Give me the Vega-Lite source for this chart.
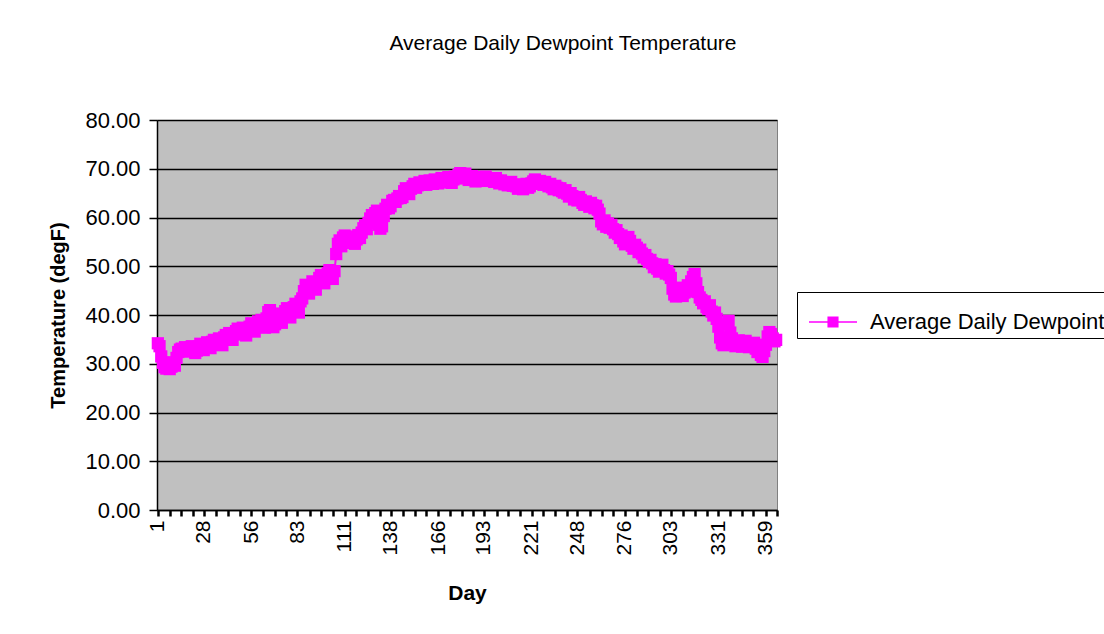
{
  "$schema": "https://vega.github.io/schema/vega-lite/v6.json",
  "width": 620,
  "height": 390,
  "autosize": {"type": "none"},
  "padding": {"left": 157, "top": 120, "right": 327, "bottom": 124},
  "background": "white",
  "title": {
    "text": "Average Daily Dewpoint Temperature",
    "anchor": "middle",
    "dx": 96,
    "offset": 55,
    "font": "Liberation Sans",
    "fontSize": 21,
    "fontWeight": "normal",
    "color": "black"
  },
  "config": {
    "view": {"fill": "#C0C0C0", "stroke": "#808080", "strokeWidth": 1},
    "axis": {
      "labelFont": "Liberation Sans",
      "titleFont": "Liberation Sans",
      "labelColor": "black",
      "titleColor": "black",
      "domainColor": "black",
      "tickColor": "black",
      "gridColor": "black"
    }
  },
  "data": {
    "values": [
      {"day":1,"temp":34.2,"series":"Average Daily Dewpoint"},
      {"day":2,"temp":33.6,"series":"Average Daily Dewpoint"},
      {"day":3,"temp":31.5,"series":"Average Daily Dewpoint"},
      {"day":4,"temp":30.2,"series":"Average Daily Dewpoint"},
      {"day":5,"temp":29.3,"series":"Average Daily Dewpoint"},
      {"day":6,"temp":29.0,"series":"Average Daily Dewpoint"},
      {"day":7,"temp":30.1,"series":"Average Daily Dewpoint"},
      {"day":8,"temp":28.9,"series":"Average Daily Dewpoint"},
      {"day":9,"temp":29.4,"series":"Average Daily Dewpoint"},
      {"day":10,"temp":30.3,"series":"Average Daily Dewpoint"},
      {"day":11,"temp":29.6,"series":"Average Daily Dewpoint"},
      {"day":12,"temp":31.2,"series":"Average Daily Dewpoint"},
      {"day":13,"temp":32.4,"series":"Average Daily Dewpoint"},
      {"day":14,"temp":32.9,"series":"Average Daily Dewpoint"},
      {"day":15,"temp":33.1,"series":"Average Daily Dewpoint"},
      {"day":16,"temp":32.6,"series":"Average Daily Dewpoint"},
      {"day":17,"temp":33.4,"series":"Average Daily Dewpoint"},
      {"day":18,"temp":33.0,"series":"Average Daily Dewpoint"},
      {"day":19,"temp":32.5,"series":"Average Daily Dewpoint"},
      {"day":20,"temp":33.3,"series":"Average Daily Dewpoint"},
      {"day":21,"temp":33.6,"series":"Average Daily Dewpoint"},
      {"day":22,"temp":33.1,"series":"Average Daily Dewpoint"},
      {"day":23,"temp":32.2,"series":"Average Daily Dewpoint"},
      {"day":24,"temp":32.7,"series":"Average Daily Dewpoint"},
      {"day":25,"temp":33.5,"series":"Average Daily Dewpoint"},
      {"day":26,"temp":34.1,"series":"Average Daily Dewpoint"},
      {"day":27,"temp":33.4,"series":"Average Daily Dewpoint"},
      {"day":28,"temp":32.8,"series":"Average Daily Dewpoint"},
      {"day":29,"temp":34.0,"series":"Average Daily Dewpoint"},
      {"day":30,"temp":34.4,"series":"Average Daily Dewpoint"},
      {"day":31,"temp":33.7,"series":"Average Daily Dewpoint"},
      {"day":32,"temp":33.2,"series":"Average Daily Dewpoint"},
      {"day":33,"temp":34.5,"series":"Average Daily Dewpoint"},
      {"day":34,"temp":34.9,"series":"Average Daily Dewpoint"},
      {"day":35,"temp":33.9,"series":"Average Daily Dewpoint"},
      {"day":36,"temp":34.3,"series":"Average Daily Dewpoint"},
      {"day":37,"temp":35.2,"series":"Average Daily Dewpoint"},
      {"day":38,"temp":34.6,"series":"Average Daily Dewpoint"},
      {"day":39,"temp":33.8,"series":"Average Daily Dewpoint"},
      {"day":40,"temp":35.4,"series":"Average Daily Dewpoint"},
      {"day":41,"temp":35.9,"series":"Average Daily Dewpoint"},
      {"day":42,"temp":35.1,"series":"Average Daily Dewpoint"},
      {"day":43,"temp":36.3,"series":"Average Daily Dewpoint"},
      {"day":44,"temp":35.6,"series":"Average Daily Dewpoint"},
      {"day":45,"temp":34.9,"series":"Average Daily Dewpoint"},
      {"day":46,"temp":36.0,"series":"Average Daily Dewpoint"},
      {"day":47,"temp":36.7,"series":"Average Daily Dewpoint"},
      {"day":48,"temp":37.2,"series":"Average Daily Dewpoint"},
      {"day":49,"temp":36.1,"series":"Average Daily Dewpoint"},
      {"day":50,"temp":36.9,"series":"Average Daily Dewpoint"},
      {"day":51,"temp":37.4,"series":"Average Daily Dewpoint"},
      {"day":52,"temp":36.5,"series":"Average Daily Dewpoint"},
      {"day":53,"temp":35.8,"series":"Average Daily Dewpoint"},
      {"day":54,"temp":37.0,"series":"Average Daily Dewpoint"},
      {"day":55,"temp":37.6,"series":"Average Daily Dewpoint"},
      {"day":56,"temp":38.3,"series":"Average Daily Dewpoint"},
      {"day":57,"temp":37.1,"series":"Average Daily Dewpoint"},
      {"day":58,"temp":36.6,"series":"Average Daily Dewpoint"},
      {"day":59,"temp":38.0,"series":"Average Daily Dewpoint"},
      {"day":60,"temp":38.7,"series":"Average Daily Dewpoint"},
      {"day":61,"temp":38.2,"series":"Average Daily Dewpoint"},
      {"day":62,"temp":39.0,"series":"Average Daily Dewpoint"},
      {"day":63,"temp":38.5,"series":"Average Daily Dewpoint"},
      {"day":64,"temp":37.4,"series":"Average Daily Dewpoint"},
      {"day":65,"temp":39.3,"series":"Average Daily Dewpoint"},
      {"day":66,"temp":40.6,"series":"Average Daily Dewpoint"},
      {"day":67,"temp":41.0,"series":"Average Daily Dewpoint"},
      {"day":68,"temp":39.2,"series":"Average Daily Dewpoint"},
      {"day":69,"temp":37.5,"series":"Average Daily Dewpoint"},
      {"day":70,"temp":38.1,"series":"Average Daily Dewpoint"},
      {"day":71,"temp":39.8,"series":"Average Daily Dewpoint"},
      {"day":72,"temp":40.3,"series":"Average Daily Dewpoint"},
      {"day":73,"temp":38.9,"series":"Average Daily Dewpoint"},
      {"day":74,"temp":38.4,"series":"Average Daily Dewpoint"},
      {"day":75,"temp":39.6,"series":"Average Daily Dewpoint"},
      {"day":76,"temp":40.8,"series":"Average Daily Dewpoint"},
      {"day":77,"temp":41.4,"series":"Average Daily Dewpoint"},
      {"day":78,"temp":40.1,"series":"Average Daily Dewpoint"},
      {"day":79,"temp":39.5,"series":"Average Daily Dewpoint"},
      {"day":80,"temp":40.7,"series":"Average Daily Dewpoint"},
      {"day":81,"temp":41.6,"series":"Average Daily Dewpoint"},
      {"day":82,"temp":42.3,"series":"Average Daily Dewpoint"},
      {"day":83,"temp":41.2,"series":"Average Daily Dewpoint"},
      {"day":84,"temp":40.5,"series":"Average Daily Dewpoint"},
      {"day":85,"temp":42.8,"series":"Average Daily Dewpoint"},
      {"day":86,"temp":43.4,"series":"Average Daily Dewpoint"},
      {"day":87,"temp":44.9,"series":"Average Daily Dewpoint"},
      {"day":88,"temp":46.2,"series":"Average Daily Dewpoint"},
      {"day":89,"temp":45.1,"series":"Average Daily Dewpoint"},
      {"day":90,"temp":44.4,"series":"Average Daily Dewpoint"},
      {"day":91,"temp":45.8,"series":"Average Daily Dewpoint"},
      {"day":92,"temp":46.9,"series":"Average Daily Dewpoint"},
      {"day":93,"temp":46.3,"series":"Average Daily Dewpoint"},
      {"day":94,"temp":45.2,"series":"Average Daily Dewpoint"},
      {"day":95,"temp":46.7,"series":"Average Daily Dewpoint"},
      {"day":96,"temp":47.6,"series":"Average Daily Dewpoint"},
      {"day":97,"temp":48.2,"series":"Average Daily Dewpoint"},
      {"day":98,"temp":47.0,"series":"Average Daily Dewpoint"},
      {"day":99,"temp":46.5,"series":"Average Daily Dewpoint"},
      {"day":100,"temp":47.8,"series":"Average Daily Dewpoint"},
      {"day":101,"temp":48.6,"series":"Average Daily Dewpoint"},
      {"day":102,"temp":49.2,"series":"Average Daily Dewpoint"},
      {"day":103,"temp":48.1,"series":"Average Daily Dewpoint"},
      {"day":104,"temp":47.4,"series":"Average Daily Dewpoint"},
      {"day":105,"temp":49.0,"series":"Average Daily Dewpoint"},
      {"day":106,"temp":52.5,"series":"Average Daily Dewpoint"},
      {"day":107,"temp":54.6,"series":"Average Daily Dewpoint"},
      {"day":108,"temp":55.3,"series":"Average Daily Dewpoint"},
      {"day":109,"temp":54.1,"series":"Average Daily Dewpoint"},
      {"day":110,"temp":55.9,"series":"Average Daily Dewpoint"},
      {"day":111,"temp":56.3,"series":"Average Daily Dewpoint"},
      {"day":112,"temp":55.6,"series":"Average Daily Dewpoint"},
      {"day":113,"temp":54.8,"series":"Average Daily Dewpoint"},
      {"day":114,"temp":55.7,"series":"Average Daily Dewpoint"},
      {"day":115,"temp":56.1,"series":"Average Daily Dewpoint"},
      {"day":116,"temp":55.2,"series":"Average Daily Dewpoint"},
      {"day":117,"temp":54.6,"series":"Average Daily Dewpoint"},
      {"day":118,"temp":55.5,"series":"Average Daily Dewpoint"},
      {"day":119,"temp":56.4,"series":"Average Daily Dewpoint"},
      {"day":120,"temp":55.8,"series":"Average Daily Dewpoint"},
      {"day":121,"temp":56.9,"series":"Average Daily Dewpoint"},
      {"day":122,"temp":57.8,"series":"Average Daily Dewpoint"},
      {"day":123,"temp":58.4,"series":"Average Daily Dewpoint"},
      {"day":124,"temp":57.6,"series":"Average Daily Dewpoint"},
      {"day":125,"temp":58.9,"series":"Average Daily Dewpoint"},
      {"day":126,"temp":59.8,"series":"Average Daily Dewpoint"},
      {"day":127,"temp":60.5,"series":"Average Daily Dewpoint"},
      {"day":128,"temp":59.4,"series":"Average Daily Dewpoint"},
      {"day":129,"temp":60.9,"series":"Average Daily Dewpoint"},
      {"day":130,"temp":61.4,"series":"Average Daily Dewpoint"},
      {"day":131,"temp":58.5,"series":"Average Daily Dewpoint"},
      {"day":132,"temp":57.7,"series":"Average Daily Dewpoint"},
      {"day":133,"temp":58.2,"series":"Average Daily Dewpoint"},
      {"day":134,"temp":60.3,"series":"Average Daily Dewpoint"},
      {"day":135,"temp":61.8,"series":"Average Daily Dewpoint"},
      {"day":136,"temp":62.6,"series":"Average Daily Dewpoint"},
      {"day":137,"temp":61.9,"series":"Average Daily Dewpoint"},
      {"day":138,"temp":62.3,"series":"Average Daily Dewpoint"},
      {"day":139,"temp":63.4,"series":"Average Daily Dewpoint"},
      {"day":140,"temp":63.6,"series":"Average Daily Dewpoint"},
      {"day":141,"temp":63.2,"series":"Average Daily Dewpoint"},
      {"day":142,"temp":63.9,"series":"Average Daily Dewpoint"},
      {"day":143,"temp":64.4,"series":"Average Daily Dewpoint"},
      {"day":144,"temp":64.0,"series":"Average Daily Dewpoint"},
      {"day":145,"temp":64.2,"series":"Average Daily Dewpoint"},
      {"day":146,"temp":65.4,"series":"Average Daily Dewpoint"},
      {"day":147,"temp":66.0,"series":"Average Daily Dewpoint"},
      {"day":148,"temp":65.3,"series":"Average Daily Dewpoint"},
      {"day":149,"temp":64.8,"series":"Average Daily Dewpoint"},
      {"day":150,"temp":65.9,"series":"Average Daily Dewpoint"},
      {"day":151,"temp":66.4,"series":"Average Daily Dewpoint"},
      {"day":152,"temp":66.9,"series":"Average Daily Dewpoint"},
      {"day":153,"temp":66.1,"series":"Average Daily Dewpoint"},
      {"day":154,"temp":66.6,"series":"Average Daily Dewpoint"},
      {"day":155,"temp":67.2,"series":"Average Daily Dewpoint"},
      {"day":156,"temp":66.8,"series":"Average Daily Dewpoint"},
      {"day":157,"temp":67.0,"series":"Average Daily Dewpoint"},
      {"day":158,"temp":67.5,"series":"Average Daily Dewpoint"},
      {"day":159,"temp":66.7,"series":"Average Daily Dewpoint"},
      {"day":160,"temp":67.1,"series":"Average Daily Dewpoint"},
      {"day":161,"temp":67.6,"series":"Average Daily Dewpoint"},
      {"day":162,"temp":67.3,"series":"Average Daily Dewpoint"},
      {"day":163,"temp":66.9,"series":"Average Daily Dewpoint"},
      {"day":164,"temp":67.8,"series":"Average Daily Dewpoint"},
      {"day":165,"temp":67.4,"series":"Average Daily Dewpoint"},
      {"day":166,"temp":67.0,"series":"Average Daily Dewpoint"},
      {"day":167,"temp":67.7,"series":"Average Daily Dewpoint"},
      {"day":168,"temp":68.1,"series":"Average Daily Dewpoint"},
      {"day":169,"temp":67.5,"series":"Average Daily Dewpoint"},
      {"day":170,"temp":67.2,"series":"Average Daily Dewpoint"},
      {"day":171,"temp":67.9,"series":"Average Daily Dewpoint"},
      {"day":172,"temp":68.3,"series":"Average Daily Dewpoint"},
      {"day":173,"temp":67.6,"series":"Average Daily Dewpoint"},
      {"day":174,"temp":67.1,"series":"Average Daily Dewpoint"},
      {"day":175,"temp":67.8,"series":"Average Daily Dewpoint"},
      {"day":176,"temp":68.4,"series":"Average Daily Dewpoint"},
      {"day":177,"temp":68.0,"series":"Average Daily Dewpoint"},
      {"day":178,"temp":68.7,"series":"Average Daily Dewpoint"},
      {"day":179,"temp":69.1,"series":"Average Daily Dewpoint"},
      {"day":180,"temp":68.8,"series":"Average Daily Dewpoint"},
      {"day":181,"temp":68.6,"series":"Average Daily Dewpoint"},
      {"day":182,"temp":69.0,"series":"Average Daily Dewpoint"},
      {"day":183,"temp":68.2,"series":"Average Daily Dewpoint"},
      {"day":184,"temp":67.7,"series":"Average Daily Dewpoint"},
      {"day":185,"temp":68.0,"series":"Average Daily Dewpoint"},
      {"day":186,"temp":68.5,"series":"Average Daily Dewpoint"},
      {"day":187,"temp":67.9,"series":"Average Daily Dewpoint"},
      {"day":188,"temp":67.4,"series":"Average Daily Dewpoint"},
      {"day":189,"temp":68.1,"series":"Average Daily Dewpoint"},
      {"day":190,"temp":68.3,"series":"Average Daily Dewpoint"},
      {"day":191,"temp":67.8,"series":"Average Daily Dewpoint"},
      {"day":192,"temp":67.5,"series":"Average Daily Dewpoint"},
      {"day":193,"temp":68.2,"series":"Average Daily Dewpoint"},
      {"day":194,"temp":68.4,"series":"Average Daily Dewpoint"},
      {"day":195,"temp":67.9,"series":"Average Daily Dewpoint"},
      {"day":196,"temp":67.6,"series":"Average Daily Dewpoint"},
      {"day":197,"temp":68.0,"series":"Average Daily Dewpoint"},
      {"day":198,"temp":67.7,"series":"Average Daily Dewpoint"},
      {"day":199,"temp":67.3,"series":"Average Daily Dewpoint"},
      {"day":200,"temp":68.1,"series":"Average Daily Dewpoint"},
      {"day":201,"temp":67.5,"series":"Average Daily Dewpoint"},
      {"day":202,"temp":67.0,"series":"Average Daily Dewpoint"},
      {"day":203,"temp":67.6,"series":"Average Daily Dewpoint"},
      {"day":204,"temp":67.2,"series":"Average Daily Dewpoint"},
      {"day":205,"temp":66.8,"series":"Average Daily Dewpoint"},
      {"day":206,"temp":67.1,"series":"Average Daily Dewpoint"},
      {"day":207,"temp":66.6,"series":"Average Daily Dewpoint"},
      {"day":208,"temp":66.9,"series":"Average Daily Dewpoint"},
      {"day":209,"temp":67.3,"series":"Average Daily Dewpoint"},
      {"day":210,"temp":66.5,"series":"Average Daily Dewpoint"},
      {"day":211,"temp":66.8,"series":"Average Daily Dewpoint"},
      {"day":212,"temp":66.4,"series":"Average Daily Dewpoint"},
      {"day":213,"temp":65.9,"series":"Average Daily Dewpoint"},
      {"day":214,"temp":66.7,"series":"Average Daily Dewpoint"},
      {"day":215,"temp":66.2,"series":"Average Daily Dewpoint"},
      {"day":216,"temp":65.8,"series":"Average Daily Dewpoint"},
      {"day":217,"temp":66.5,"series":"Average Daily Dewpoint"},
      {"day":218,"temp":66.9,"series":"Average Daily Dewpoint"},
      {"day":219,"temp":66.1,"series":"Average Daily Dewpoint"},
      {"day":220,"temp":66.4,"series":"Average Daily Dewpoint"},
      {"day":221,"temp":67.0,"series":"Average Daily Dewpoint"},
      {"day":222,"temp":67.4,"series":"Average Daily Dewpoint"},
      {"day":223,"temp":67.8,"series":"Average Daily Dewpoint"},
      {"day":224,"temp":67.2,"series":"Average Daily Dewpoint"},
      {"day":225,"temp":66.9,"series":"Average Daily Dewpoint"},
      {"day":226,"temp":67.5,"series":"Average Daily Dewpoint"},
      {"day":227,"temp":67.1,"series":"Average Daily Dewpoint"},
      {"day":228,"temp":66.7,"series":"Average Daily Dewpoint"},
      {"day":229,"temp":67.3,"series":"Average Daily Dewpoint"},
      {"day":230,"temp":66.8,"series":"Average Daily Dewpoint"},
      {"day":231,"temp":66.4,"series":"Average Daily Dewpoint"},
      {"day":232,"temp":66.9,"series":"Average Daily Dewpoint"},
      {"day":233,"temp":66.2,"series":"Average Daily Dewpoint"},
      {"day":234,"temp":65.8,"series":"Average Daily Dewpoint"},
      {"day":235,"temp":66.5,"series":"Average Daily Dewpoint"},
      {"day":236,"temp":66.1,"series":"Average Daily Dewpoint"},
      {"day":237,"temp":65.6,"series":"Average Daily Dewpoint"},
      {"day":238,"temp":66.0,"series":"Average Daily Dewpoint"},
      {"day":239,"temp":65.4,"series":"Average Daily Dewpoint"},
      {"day":240,"temp":65.1,"series":"Average Daily Dewpoint"},
      {"day":241,"temp":65.6,"series":"Average Daily Dewpoint"},
      {"day":242,"temp":64.9,"series":"Average Daily Dewpoint"},
      {"day":243,"temp":64.3,"series":"Average Daily Dewpoint"},
      {"day":244,"temp":65.0,"series":"Average Daily Dewpoint"},
      {"day":245,"temp":64.4,"series":"Average Daily Dewpoint"},
      {"day":246,"temp":63.7,"series":"Average Daily Dewpoint"},
      {"day":247,"temp":64.1,"series":"Average Daily Dewpoint"},
      {"day":248,"temp":63.5,"series":"Average Daily Dewpoint"},
      {"day":249,"temp":64.2,"series":"Average Daily Dewpoint"},
      {"day":250,"temp":63.6,"series":"Average Daily Dewpoint"},
      {"day":251,"temp":63.0,"series":"Average Daily Dewpoint"},
      {"day":252,"temp":62.6,"series":"Average Daily Dewpoint"},
      {"day":253,"temp":63.3,"series":"Average Daily Dewpoint"},
      {"day":254,"temp":62.8,"series":"Average Daily Dewpoint"},
      {"day":255,"temp":62.2,"series":"Average Daily Dewpoint"},
      {"day":256,"temp":63.0,"series":"Average Daily Dewpoint"},
      {"day":257,"temp":62.5,"series":"Average Daily Dewpoint"},
      {"day":258,"temp":61.9,"series":"Average Daily Dewpoint"},
      {"day":259,"temp":62.4,"series":"Average Daily Dewpoint"},
      {"day":260,"temp":61.6,"series":"Average Daily Dewpoint"},
      {"day":261,"temp":60.8,"series":"Average Daily Dewpoint"},
      {"day":262,"temp":59.2,"series":"Average Daily Dewpoint"},
      {"day":263,"temp":58.6,"series":"Average Daily Dewpoint"},
      {"day":264,"temp":59.4,"series":"Average Daily Dewpoint"},
      {"day":265,"temp":58.1,"series":"Average Daily Dewpoint"},
      {"day":266,"temp":58.8,"series":"Average Daily Dewpoint"},
      {"day":267,"temp":57.9,"series":"Average Daily Dewpoint"},
      {"day":268,"temp":58.5,"series":"Average Daily Dewpoint"},
      {"day":269,"temp":57.6,"series":"Average Daily Dewpoint"},
      {"day":270,"temp":56.9,"series":"Average Daily Dewpoint"},
      {"day":271,"temp":57.4,"series":"Average Daily Dewpoint"},
      {"day":272,"temp":56.6,"series":"Average Daily Dewpoint"},
      {"day":273,"temp":55.8,"series":"Average Daily Dewpoint"},
      {"day":274,"temp":56.3,"series":"Average Daily Dewpoint"},
      {"day":275,"temp":55.1,"series":"Average Daily Dewpoint"},
      {"day":276,"temp":54.5,"series":"Average Daily Dewpoint"},
      {"day":277,"temp":55.4,"series":"Average Daily Dewpoint"},
      {"day":278,"temp":56.0,"series":"Average Daily Dewpoint"},
      {"day":279,"temp":55.2,"series":"Average Daily Dewpoint"},
      {"day":280,"temp":54.2,"series":"Average Daily Dewpoint"},
      {"day":281,"temp":53.6,"series":"Average Daily Dewpoint"},
      {"day":282,"temp":54.4,"series":"Average Daily Dewpoint"},
      {"day":283,"temp":53.8,"series":"Average Daily Dewpoint"},
      {"day":284,"temp":52.9,"series":"Average Daily Dewpoint"},
      {"day":285,"temp":53.4,"series":"Average Daily Dewpoint"},
      {"day":286,"temp":52.6,"series":"Average Daily Dewpoint"},
      {"day":287,"temp":51.8,"series":"Average Daily Dewpoint"},
      {"day":288,"temp":52.3,"series":"Average Daily Dewpoint"},
      {"day":289,"temp":51.5,"series":"Average Daily Dewpoint"},
      {"day":290,"temp":50.9,"series":"Average Daily Dewpoint"},
      {"day":291,"temp":51.3,"series":"Average Daily Dewpoint"},
      {"day":292,"temp":50.6,"series":"Average Daily Dewpoint"},
      {"day":293,"temp":49.8,"series":"Average Daily Dewpoint"},
      {"day":294,"temp":50.4,"series":"Average Daily Dewpoint"},
      {"day":295,"temp":49.5,"series":"Average Daily Dewpoint"},
      {"day":296,"temp":48.9,"series":"Average Daily Dewpoint"},
      {"day":297,"temp":49.6,"series":"Average Daily Dewpoint"},
      {"day":298,"temp":50.3,"series":"Average Daily Dewpoint"},
      {"day":299,"temp":49.2,"series":"Average Daily Dewpoint"},
      {"day":300,"temp":48.5,"series":"Average Daily Dewpoint"},
      {"day":301,"temp":49.0,"series":"Average Daily Dewpoint"},
      {"day":302,"temp":48.3,"series":"Average Daily Dewpoint"},
      {"day":303,"temp":47.6,"series":"Average Daily Dewpoint"},
      {"day":304,"temp":45.4,"series":"Average Daily Dewpoint"},
      {"day":305,"temp":44.2,"series":"Average Daily Dewpoint"},
      {"day":306,"temp":43.8,"series":"Average Daily Dewpoint"},
      {"day":307,"temp":44.9,"series":"Average Daily Dewpoint"},
      {"day":308,"temp":45.6,"series":"Average Daily Dewpoint"},
      {"day":309,"temp":44.3,"series":"Average Daily Dewpoint"},
      {"day":310,"temp":43.9,"series":"Average Daily Dewpoint"},
      {"day":311,"temp":44.6,"series":"Average Daily Dewpoint"},
      {"day":312,"temp":45.3,"series":"Average Daily Dewpoint"},
      {"day":313,"temp":46.1,"series":"Average Daily Dewpoint"},
      {"day":314,"temp":44.8,"series":"Average Daily Dewpoint"},
      {"day":315,"temp":46.9,"series":"Average Daily Dewpoint"},
      {"day":316,"temp":47.8,"series":"Average Daily Dewpoint"},
      {"day":317,"temp":48.4,"series":"Average Daily Dewpoint"},
      {"day":318,"temp":46.5,"series":"Average Daily Dewpoint"},
      {"day":319,"temp":44.7,"series":"Average Daily Dewpoint"},
      {"day":320,"temp":43.6,"series":"Average Daily Dewpoint"},
      {"day":321,"temp":43.1,"series":"Average Daily Dewpoint"},
      {"day":322,"temp":42.4,"series":"Average Daily Dewpoint"},
      {"day":323,"temp":42.8,"series":"Average Daily Dewpoint"},
      {"day":324,"temp":41.6,"series":"Average Daily Dewpoint"},
      {"day":325,"temp":41.2,"series":"Average Daily Dewpoint"},
      {"day":326,"temp":42.0,"series":"Average Daily Dewpoint"},
      {"day":327,"temp":40.7,"series":"Average Daily Dewpoint"},
      {"day":328,"temp":39.9,"series":"Average Daily Dewpoint"},
      {"day":329,"temp":40.5,"series":"Average Daily Dewpoint"},
      {"day":330,"temp":39.2,"series":"Average Daily Dewpoint"},
      {"day":331,"temp":37.6,"series":"Average Daily Dewpoint"},
      {"day":332,"temp":35.4,"series":"Average Daily Dewpoint"},
      {"day":333,"temp":34.2,"series":"Average Daily Dewpoint"},
      {"day":334,"temp":33.8,"series":"Average Daily Dewpoint"},
      {"day":335,"temp":34.6,"series":"Average Daily Dewpoint"},
      {"day":336,"temp":38.1,"series":"Average Daily Dewpoint"},
      {"day":337,"temp":38.8,"series":"Average Daily Dewpoint"},
      {"day":338,"temp":36.4,"series":"Average Daily Dewpoint"},
      {"day":339,"temp":35.2,"series":"Average Daily Dewpoint"},
      {"day":340,"temp":34.1,"series":"Average Daily Dewpoint"},
      {"day":341,"temp":33.6,"series":"Average Daily Dewpoint"},
      {"day":342,"temp":34.4,"series":"Average Daily Dewpoint"},
      {"day":343,"temp":34.8,"series":"Average Daily Dewpoint"},
      {"day":344,"temp":33.9,"series":"Average Daily Dewpoint"},
      {"day":345,"temp":33.5,"series":"Average Daily Dewpoint"},
      {"day":346,"temp":34.2,"series":"Average Daily Dewpoint"},
      {"day":347,"temp":34.7,"series":"Average Daily Dewpoint"},
      {"day":348,"temp":33.8,"series":"Average Daily Dewpoint"},
      {"day":349,"temp":33.4,"series":"Average Daily Dewpoint"},
      {"day":350,"temp":34.0,"series":"Average Daily Dewpoint"},
      {"day":351,"temp":33.6,"series":"Average Daily Dewpoint"},
      {"day":352,"temp":34.3,"series":"Average Daily Dewpoint"},
      {"day":353,"temp":33.1,"series":"Average Daily Dewpoint"},
      {"day":354,"temp":32.4,"series":"Average Daily Dewpoint"},
      {"day":355,"temp":32.9,"series":"Average Daily Dewpoint"},
      {"day":356,"temp":31.8,"series":"Average Daily Dewpoint"},
      {"day":357,"temp":31.4,"series":"Average Daily Dewpoint"},
      {"day":358,"temp":32.6,"series":"Average Daily Dewpoint"},
      {"day":359,"temp":33.9,"series":"Average Daily Dewpoint"},
      {"day":360,"temp":35.6,"series":"Average Daily Dewpoint"},
      {"day":361,"temp":36.5,"series":"Average Daily Dewpoint"},
      {"day":362,"temp":36.1,"series":"Average Daily Dewpoint"},
      {"day":363,"temp":35.2,"series":"Average Daily Dewpoint"},
      {"day":364,"temp":34.6,"series":"Average Daily Dewpoint"},
      {"day":365,"temp":34.9,"series":"Average Daily Dewpoint"}
    ]
  },
  "mark": {
    "type": "line",
    "strokeWidth": 2,
    "point": {"shape": "square", "size": 150, "filled": true, "opacity": 1}
  },
  "encoding": {
    "x": {
      "field": "day",
      "type": "quantitative",
      "scale": {"domain": [0.5, 365.5], "nice": false, "zero": false},
      "axis": {
        "title": "Day",
        "titleFontSize": 21,
        "titleFontWeight": "bold",
        "titlePadding": 27,
        "values": [1, 7.9, 14.8, 21.6, 28, 35.4, 42.3, 49.1, 56, 62.9, 69.8, 76.6, 83, 90.4, 97.3, 104.1, 111, 117.9, 124.8, 131.6, 138, 145.4, 152.3, 159.1, 166, 172.9, 179.8, 186.6, 193, 200.4, 207.3, 214.1, 221, 227.9, 234.8, 241.6, 248, 255.4, 262.3, 269.1, 276, 282.9, 289.8, 296.6, 303, 310.4, 317.3, 324.1, 331, 337.9, 344.8, 351.6, 359, 365.4],
        "labelExpr": "indexof([1,28,56,83,111,138,166,193,221,248,276,303,331,359], datum.value) >= 0 ? format(datum.value, 'd') : ''",
        "labelAngle": -90,
        "labelFontSize": 21,
        "labelPadding": 4,
        "labelFlush": false,
        "labelOverlap": false,
        "tickSize": 6,
        "tickWidth": 2.5,
        "domainWidth": 1.5,
        "grid": false
      }
    },
    "y": {
      "field": "temp",
      "type": "quantitative",
      "scale": {"domain": [0, 80], "nice": false},
      "axis": {
        "title": "Temperature (degF)",
        "titleFontSize": 20,
        "titleFontWeight": "bold",
        "titlePadding": 16,
        "values": [0, 10, 20, 30, 40, 50, 60, 70, 80],
        "format": ".2f",
        "labelFontSize": 22,
        "labelPadding": 9,
        "tickSize": 8,
        "tickWidth": 1.5,
        "domainWidth": 1.5,
        "grid": true,
        "gridColor": "black",
        "gridWidth": 1.5
      }
    },
    "color": {
      "field": "series",
      "type": "nominal",
      "scale": {"range": ["#FF00FF"]},
      "legend": {
        "title": null,
        "orient": "none",
        "legendX": 640,
        "legendY": 172,
        "padding": 5,
        "strokeColor": "black",
        "fillColor": "white",
        "symbolType": "M-0.75,0L1.25,0M0.05,-0.2L0.45,-0.2L0.45,0.2L0.05,0.2Z",
        "symbolSize": 2304,
        "symbolStrokeWidth": 1.5,
        "symbolFillColor": "#FF00FF",
        "symbolStrokeColor": "#FF00FF",
        "labelFont": "Liberation Sans",
        "labelFontSize": 22,
        "labelColor": "black",
        "labelOffset": 18,
        "labelLimit": 400
      }
    }
  }
}
